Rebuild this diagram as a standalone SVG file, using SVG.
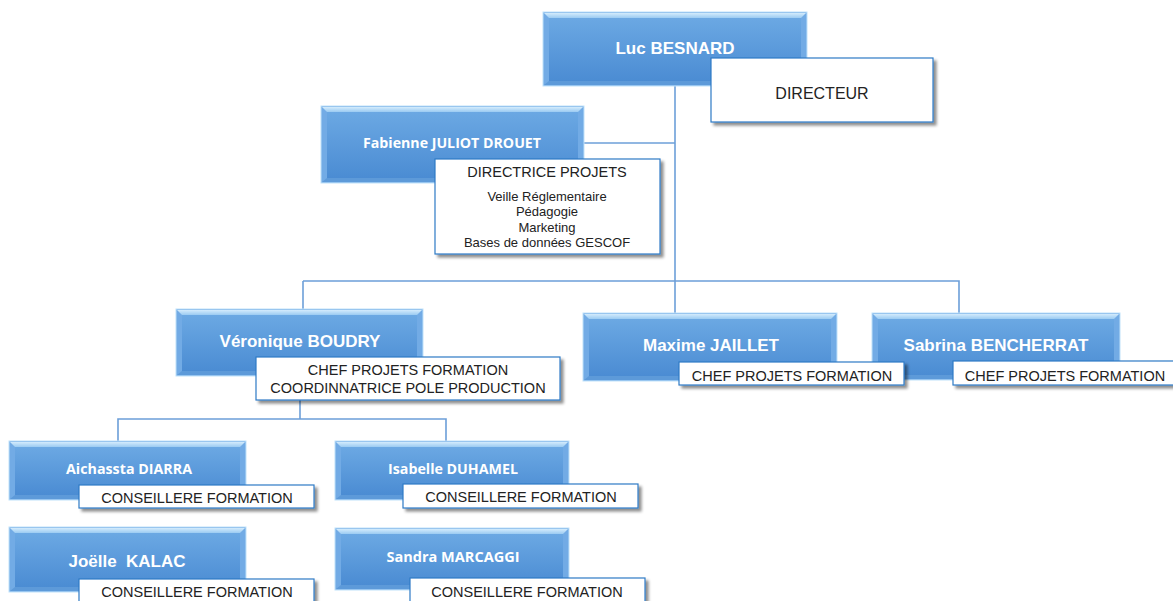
<svg xmlns="http://www.w3.org/2000/svg" width="1173" height="601" viewBox="0 0 1173 601">
<defs>
<linearGradient id="gFace" x1="0" y1="0" x2="0" y2="1">
<stop offset="0" stop-color="#6ba8e3"/>
<stop offset="1" stop-color="#4b8cd3"/>
</linearGradient>
<linearGradient id="gTop" x1="0" y1="0" x2="0" y2="1">
<stop offset="0" stop-color="#d3ebfc"/>
<stop offset="1" stop-color="#9bcbf2"/>
</linearGradient>
<filter id="shadow" x="-10%" y="-20%" width="125%" height="160%">
<feGaussianBlur in="SourceAlpha" stdDeviation="1.6"/>
<feOffset dx="3" dy="3" result="o"/>
<feComponentTransfer><feFuncA type="linear" slope="0.45"/></feComponentTransfer>
<feMerge><feMergeNode/><feMergeNode in="SourceGraphic"/></feMerge>
</filter>
</defs>
<style>
.bo{fill:#72abe5;stroke:#bfe1fa;stroke-width:1}
.bt{fill:url(#gTop)}
.bb{fill:#5d9ad9}
.bf{fill:url(#gFace)}
.lb{fill:#ffffff;stroke:#2f7bc6;stroke-width:1.2;filter:url(#shadow)}
.nm{font-family:"Liberation Sans",Arial,sans-serif;font-weight:bold;font-size:17px;fill:#ffffff;text-anchor:middle}
.nc{font-family:"Open Sans","Noto Sans",sans-serif;font-weight:bold;font-size:14px;fill:#ffffff;text-anchor:middle}
.tt{font-family:"Liberation Sans",Arial,sans-serif;font-size:14.5px;fill:#222222;text-anchor:middle}
.ts{font-family:"Liberation Sans",Arial,sans-serif;font-size:13px;fill:#222222;text-anchor:middle}
.cn{fill:none;stroke:#6c9fd9;stroke-width:1.6}
</style>

<g id="connectors">
<path class="cn" d="M675,86 V313"/>
<path class="cn" d="M584,143 H675"/>
<path class="cn" d="M303,281 H959 V313"/>
<path class="cn" d="M303,281 V309"/>
<path class="cn" d="M300,400 V419"/>
<path class="cn" d="M118,441 V419 H446 V441"/>
</g>

<g id="luc-besnard">
<rect class="bo" x="543" y="12" width="264" height="74"/>
<path class="bt" d="M544,13 H806 L801,18 H549 Z"/>
<path class="bb" d="M544,85 H806 L801,81 H549 Z"/>
<rect class="bf" x="549" y="18" width="252" height="63"/>
<text class="nm" x="675" y="54">Luc BESNARD</text>
<rect class="lb" x="711" y="58" width="222" height="64"/>
<text class="tt" x="822" y="99" style="font-size:16px">DIRECTEUR</text>
</g>

<g id="fabienne-juliot-drouet">
<rect class="bo" x="321" y="106" width="263" height="77"/>
<path class="bt" d="M322,107 H583 L578,112 H327 Z"/>
<path class="bb" d="M322,182 H583 L578,178 H327 Z"/>
<rect class="bf" x="327" y="112" width="251" height="66"/>
<text class="nc" x="452" y="148" textLength="178" lengthAdjust="spacingAndGlyphs">Fabienne JULIOT DROUET</text>
<rect class="lb" x="435" y="159" width="225" height="95"/>
<text class="tt" x="547" y="177">DIRECTRICE PROJETS</text>
<text class="ts" x="547" y="201">Veille Réglementaire</text>
<text class="ts" x="547" y="216">Pédagogie</text>
<text class="ts" x="547" y="232">Marketing</text>
<text class="ts" x="547" y="247">Bases de données GESCOF</text>
</g>

<g id="veronique-boudry">
<rect class="bo" x="176" y="309" width="247" height="67"/>
<path class="bt" d="M177,310 H422 L417,315 H182 Z"/>
<path class="bb" d="M177,375 H422 L417,371 H182 Z"/>
<rect class="bf" x="182" y="315" width="235" height="56"/>
<text class="nm" x="300" y="347">Véronique BOUDRY</text>
<rect class="lb" x="256" y="357" width="304" height="43"/>
<text class="tt" x="408" y="375">CHEF PROJETS FORMATION</text>
<text class="tt" x="408" y="393">COORDINNATRICE POLE PRODUCTION</text>
</g>

<g id="sabrina-bencherrat">
<rect class="bo" x="872" y="313" width="248" height="67"/>
<path class="bt" d="M873,314 H1119 L1114,319 H878 Z"/>
<path class="bb" d="M873,379 H1119 L1114,375 H878 Z"/>
<rect class="bf" x="878" y="319" width="236" height="56"/>
<text class="nm" x="996" y="351">Sabrina BENCHERRAT</text>
<rect class="lb" x="953" y="361" width="224" height="24"/>
<text class="tt" x="1065" y="381">CHEF PROJETS FORMATION</text>
</g>

<g id="maxime-jaillet">
<rect class="bo" x="583" y="313" width="254" height="68"/>
<path class="bt" d="M584,314 H836 L831,319 H589 Z"/>
<path class="bb" d="M584,380 H836 L831,376 H589 Z"/>
<rect class="bf" x="589" y="319" width="242" height="57"/>
<text class="nm" x="711" y="351">Maxime JAILLET</text>
<rect class="lb" x="679" y="362" width="225" height="23"/>
<text class="tt" x="792" y="381">CHEF PROJETS FORMATION</text>
</g>

<g id="aichassta-diarra">
<rect class="bo" x="9" y="441" width="237" height="59"/>
<path class="bt" d="M10,442 H245 L240,447 H15 Z"/>
<path class="bb" d="M10,499 H245 L240,495 H15 Z"/>
<rect class="bf" x="15" y="447" width="225" height="48"/>
<text class="nc" x="129" y="474" textLength="126" lengthAdjust="spacingAndGlyphs">Aichassta DIARRA</text>
<rect class="lb" x="79" y="485" width="235" height="23"/>
<text class="tt" x="197" y="503">CONSEILLERE FORMATION</text>
</g>

<g id="isabelle-duhamel">
<rect class="bo" x="335" y="441" width="234" height="59"/>
<path class="bt" d="M336,442 H568 L563,447 H341 Z"/>
<path class="bb" d="M336,499 H568 L563,495 H341 Z"/>
<rect class="bf" x="341" y="447" width="222" height="48"/>
<text class="nc" x="453" y="474" textLength="130" lengthAdjust="spacingAndGlyphs">Isabelle DUHAMEL</text>
<rect class="lb" x="403" y="484" width="235" height="24"/>
<text class="tt" x="521" y="502">CONSEILLERE FORMATION</text>
</g>

<g id="joelle-kalac">
<rect class="bo" x="9" y="527" width="237" height="65"/>
<path class="bt" d="M10,528 H245 L240,533 H15 Z"/>
<path class="bb" d="M10,591 H245 L240,587 H15 Z"/>
<rect class="bf" x="15" y="533" width="225" height="54"/>
<text class="nm" x="127" y="567" xml:space="preserve">Joëlle  KALAC</text>
<rect class="lb" x="79" y="579" width="235" height="30"/>
<text class="tt" x="197" y="597">CONSEILLERE FORMATION</text>
</g>

<g id="sandra-marcaggi">
<rect class="bo" x="335" y="528" width="234" height="62"/>
<path class="bt" d="M336,529 H568 L563,534 H341 Z"/>
<path class="bb" d="M336,589 H568 L563,585 H341 Z"/>
<rect class="bf" x="341" y="534" width="222" height="51"/>
<text class="nc" x="453" y="562" textLength="133" lengthAdjust="spacingAndGlyphs">Sandra MARCAGGI</text>
<rect class="lb" x="410" y="578" width="235" height="30"/>
<text class="tt" x="527" y="597">CONSEILLERE FORMATION</text>
</g>
</svg>
